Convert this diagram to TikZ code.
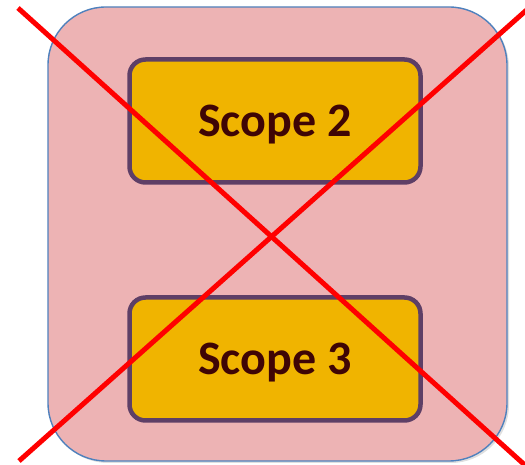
\documentclass[tikz,border=0pt]{standalone}
\usepackage{fontspec}
\setmainfont{Carlito}
\usetikzlibrary{shadows}
\definecolor{outerfill}{HTML}{EDB3B4}
\definecolor{outerline}{HTML}{4F81BD}
\definecolor{boxfill}{HTML}{F0B400}
\definecolor{boxline}{HTML}{5E3F66}
\definecolor{txt}{HTML}{3F0505}
\definecolor{xred}{HTML}{FF0000}
\tikzset{
  outerbox/.style={draw=outerline, line width=1.4pt, fill=outerfill, rounded corners=58pt,
     drop shadow={shadow xshift=2pt, shadow yshift=-2pt, opacity=0.25}},
  scopebox/.style={draw=boxline, line width=4.5pt, fill=boxfill, rounded corners=16pt,
     minimum width=291pt, minimum height=123pt, inner sep=0pt, text depth=0pt,
     font=\bfseries\fontsize{48}{56}\selectfont, text=txt},
  crossline/.style={draw=xred, line width=5pt}
}
\begin{document}
\begin{tikzpicture}[x=1pt,y=1pt]
\useasboundingbox (0,0) rectangle (525,465);
\clip (0,0) rectangle (525,465);
\node[outerbox, minimum width=459pt, minimum height=454pt, inner sep=0pt] (outer) at (277.5,231) {};
\node[scopebox] (s2) at (275,344) {Scope 2};
\node[scopebox] (s3) at (275,106) {Scope 3};
\coordinate (a1) at (18,457);
\coordinate (a2) at (527,-2);
\coordinate (b1) at (19,4);
\coordinate (b2) at (530,458);
\draw[crossline] (a1) -- (a2);
\draw[crossline] (b1) -- (b2);
\end{tikzpicture}
\end{document}
